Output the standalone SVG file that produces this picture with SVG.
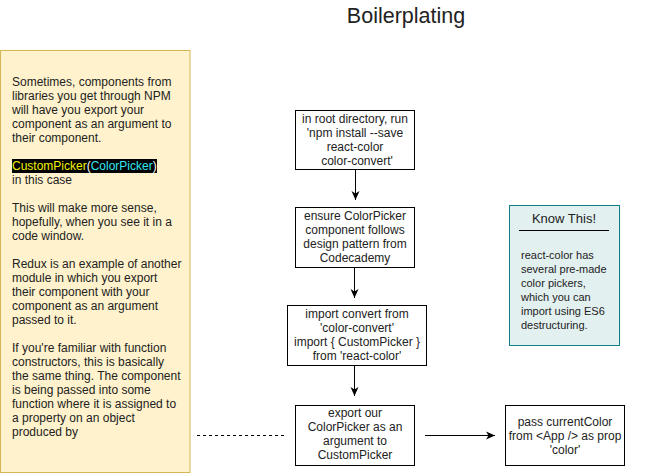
<svg xmlns="http://www.w3.org/2000/svg" width="661" height="473" viewBox="0 0 661 473">
<style>
  text { font-family: "Liberation Sans", Arial, sans-serif; fill: #222; }
  .t12 { font-size: 12px; }
  .t11 { font-size: 11px; }
  .c { text-anchor: middle; }
  .box { fill: #ffffff; stroke: #000000; stroke-width: 1; }
  .conn { stroke: #000000; stroke-width: 1; fill: none; }
</style>
<defs>
  <marker id="arr" markerWidth="10" markerHeight="10" refX="9" refY="5" orient="auto" markerUnits="userSpaceOnUse">
    <path d="M0,1 L9,5 L0,9 L2.5,5 Z" fill="#000"/>
  </marker>
</defs>
<rect width="661" height="473" fill="#ffffff"/>

<text id="title" x="406" y="23" class="c" style="font-size:21.5px">Boilerplating</text>

<g id="note">
  <rect x="0.5" y="50.5" width="189.5" height="422" fill="#fff2cc" stroke="#d6b656"/>
  <rect x="12" y="159" width="145" height="14" fill="#000"/>
  <text class="t12" x="12" y="86">Sometimes, components from</text>
  <text class="t12" x="12" y="100">libraries you get through NPM</text>
  <text class="t12" x="12" y="114">will have you export your</text>
  <text class="t12" x="12" y="128">component as an argument to</text>
  <text class="t12" x="12" y="142">their component.</text>
  <text class="t12" x="12" y="170"><tspan style="fill:#f0f000">CustomPicker</tspan><tspan style="fill:#ffffff">(</tspan><tspan style="fill:#33e6f0">ColorPicker</tspan><tspan style="fill:#ffffff">)</tspan></text>
  <text class="t12" x="12" y="184">in this case</text>
  <text class="t12" x="12" y="212">This will make more sense,</text>
  <text class="t12" x="12" y="226">hopefully, when you see it in a</text>
  <text class="t12" x="12" y="240">code window.</text>
  <text class="t12" x="12" y="268">Redux is an example of another</text>
  <text class="t12" x="12" y="282">module in which you export</text>
  <text class="t12" x="12" y="296">their component with your</text>
  <text class="t12" x="12" y="310">component as an argument</text>
  <text class="t12" x="12" y="324">passed to it.</text>
  <text class="t12" x="12" y="352">If you're familiar with function</text>
  <text class="t12" x="12" y="366">constructors, this is basically</text>
  <text class="t12" x="12" y="380">the same thing. The component</text>
  <text class="t12" x="12" y="394">is being passed into some</text>
  <text class="t12" x="12" y="408">function where it is assigned to</text>
  <text class="t12" x="12" y="422">a property on an object</text>
  <text class="t12" x="12" y="436">produced by</text>
</g>

<g id="step1">
  <rect class="box" x="295.5" y="110.5" width="119" height="59"/>
  <text class="t12 c" x="355" y="123">in root directory, run</text>
  <text class="t12 c" x="355" y="137">'npm install --save</text>
  <text class="t12 c" x="355" y="151">react-color</text>
  <text class="t12 c" x="357" y="165">color-convert'</text>
</g>

<g id="step2">
  <rect class="box" x="295.5" y="207.5" width="119" height="60"/>
  <text class="t12 c" x="355" y="220">ensure ColorPicker</text>
  <text class="t12 c" x="355" y="234">component follows</text>
  <text class="t12 c" x="355" y="248">design pattern from</text>
  <text class="t12 c" x="355" y="262">Codecademy</text>
</g>

<g id="step3">
  <rect class="box" x="287.5" y="305.5" width="139" height="60"/>
  <text class="t12 c" x="357" y="318">import convert from</text>
  <text class="t12 c" x="357" y="332">'color-convert'</text>
  <text class="t12 c" x="357" y="346">import { CustomPicker }</text>
  <text class="t12 c" x="357" y="360">from 'react-color'</text>
</g>

<g id="step4">
  <rect class="box" x="295.5" y="405.5" width="119" height="60"/>
  <text class="t12 c" x="355" y="417">export our</text>
  <text class="t12 c" x="355" y="431">ColorPicker as an</text>
  <text class="t12 c" x="355" y="445">argument to</text>
  <text class="t12 c" x="355" y="459">CustomPicker</text>
</g>

<g id="step5">
  <rect class="box" x="505.5" y="405.5" width="119" height="60"/>
  <text class="t12 c" x="565" y="426">pass currentColor</text>
  <text class="t12 c" x="565" y="440">from &lt;App /&gt; as prop</text>
  <text class="t12 c" x="565" y="454">'color'</text>
</g>

<g id="knowthis">
  <rect x="509.5" y="205.5" width="110" height="140" fill="#e2f0f0" stroke="#0e8088"/>
  <text class="c" x="564" y="223" style="font-size:13px">Know This!</text>
  <line x1="519" y1="230.5" x2="609" y2="230.5" stroke="#000"/>
  <text class="t11" x="521" y="259">react-color has</text>
  <text class="t11" x="521" y="273">several pre-made</text>
  <text class="t11" x="521" y="287">color pickers,</text>
  <text class="t11" x="521" y="301">which you can</text>
  <text class="t11" x="521" y="315">import using ES6</text>
  <text class="t11" x="521" y="329">destructuring.</text>
</g>

<g id="connectors">
  <line class="conn" x1="355.5" y1="170" x2="355.5" y2="200" marker-end="url(#arr)"/>
  <line class="conn" x1="354.5" y1="268" x2="354.5" y2="298" marker-end="url(#arr)"/>
  <line class="conn" x1="354.5" y1="366" x2="354.5" y2="396" marker-end="url(#arr)"/>
  <line class="conn" x1="425" y1="435.5" x2="495" y2="435.5" marker-end="url(#arr)"/>
  <line class="conn" x1="197" y1="435.5" x2="285" y2="435.5" stroke-dasharray="3 3"/>
</g>
</svg>
